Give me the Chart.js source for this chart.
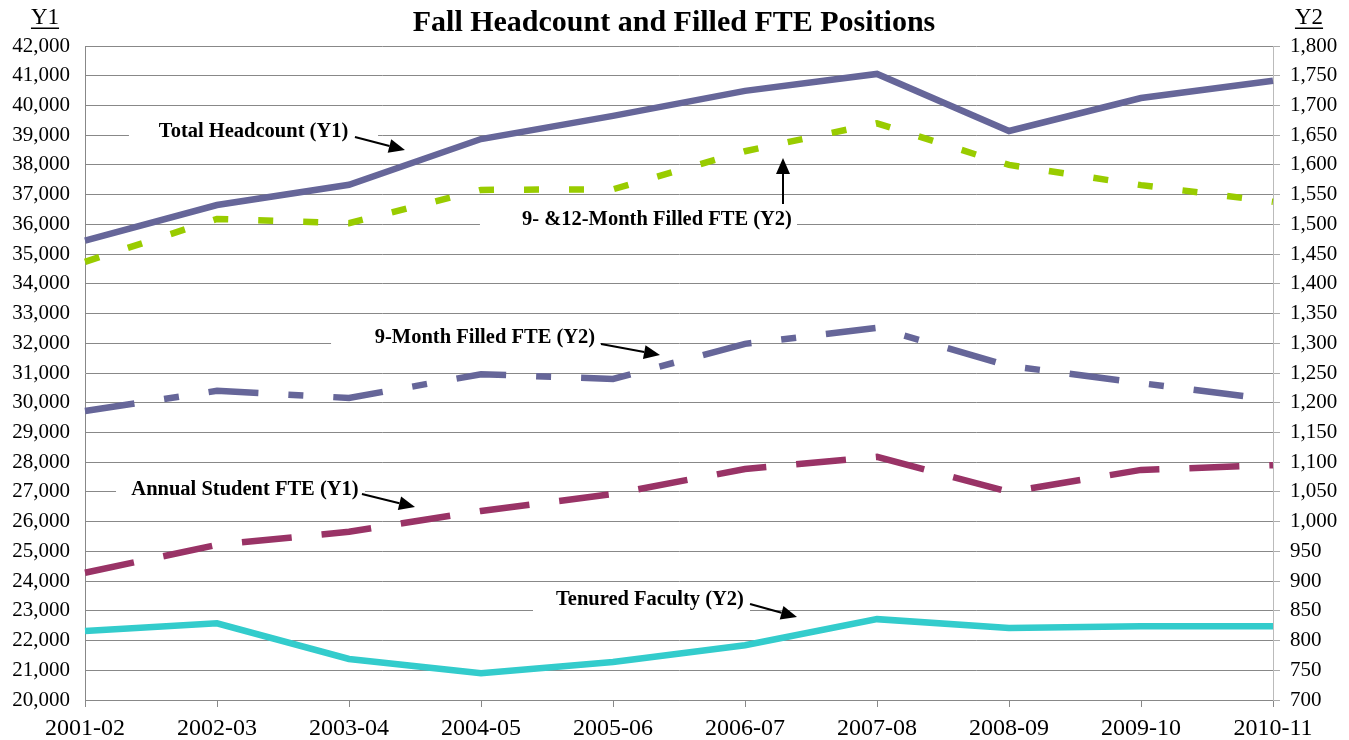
<!DOCTYPE html>
<html>
<head>
<meta charset="utf-8">
<script src="https://cdn.jsdelivr.net/npm/chart.js@4/dist/chart.umd.min.js"></script>
<style>
  html, body { margin: 0; padding: 0; background: #fff; }
  canvas { display: block; }
</style>
</head>
<body>
<canvas id="chart" width="1349" height="740"></canvas>
<script>
// --- data ---
const years = ['2001-02', '2002-03', '2003-04', '2004-05', '2005-06',
               '2006-07', '2007-08', '2008-09', '2009-10', '2010-11'];

// left axis (Y1)
const totalHeadcount   = [35450, 36650, 37330, 38870, 39650, 40490, 41060, 39140, 40250, 40830];
const annualStudentFte = [24280, 25220, 25660, 26360, 26930, 27770, 28180, 27000, 27740, 27900];

// right axis (Y2)
const fte9and12Month = [1437, 1509, 1502, 1558, 1559, 1623, 1670, 1600, 1566, 1538];
const fte9Month      = [1186, 1220, 1208, 1248, 1240, 1299, 1326, 1262, 1233, 1205];
const tenuredFaculty = [816, 829, 769, 745, 764, 792, 836, 821, 824, 824];

const y1Range = [20000, 42000];
const y2Range = [700, 1800];

const FONT = '"Liberation Serif", "DejaVu Serif", serif';

// callouts: position given as (category index, Y1 value)
const callouts = [
  { text: 'Total Headcount (Y1)',        at: [1.277, 39107], box: [0.333, 2.22],  from: [2.045, 38939], to: [2.424, 38502] },
  { text: '9- &12-Month Filled FTE (Y2)', at: [4.333, 36147], box: [2.992, 5.394], from: [5.288, 36685], to: [5.288, 38232] },
  { text: '9-Month Filled FTE (Y2)',     at: [3.03, 32178],  box: [1.864, 3.902], from: [3.909, 31976], to: [4.356, 31606] },
  { text: 'Annual Student FTE (Y1)',     at: [1.212, 27064], box: [0.235, 2.121], from: [2.098, 26930], to: [2.5, 26493] },
  { text: 'Tenured Faculty (Y2)',        at: [4.28, 23364],  box: [3.394, 5.038], from: [5.038, 23229], to: [5.394, 22792] }
];

// maps (index, Y1 value) to canvas pixels
function px(chart, pt) {
  const x = chart.scales.x;
  const y = chart.scales.y1;
  const x0 = x.getPixelForValue(0);
  const step = x.getPixelForValue(1) - x0;
  return [x0 + pt[0] * step, y.getPixelForValue(pt[1])];
}

function drawArrow(ctx, a, b) {
  const ang = Math.atan2(b[1] - a[1], b[0] - a[0]);
  const headLen = 16, headW = 7;
  const bx = b[0] - Math.cos(ang) * headLen;
  const by = b[1] - Math.sin(ang) * headLen;
  ctx.save();
  ctx.strokeStyle = '#000';
  ctx.fillStyle = '#000';
  ctx.lineWidth = 2;
  ctx.beginPath();
  ctx.moveTo(a[0], a[1]);
  ctx.lineTo(bx, by);
  ctx.stroke();
  ctx.beginPath();
  ctx.moveTo(b[0], b[1]);
  ctx.lineTo(bx + Math.sin(ang) * headW, by - Math.cos(ang) * headW);
  ctx.lineTo(bx - Math.sin(ang) * headW, by + Math.cos(ang) * headW);
  ctx.closePath();
  ctx.fill();
  ctx.restore();
}

const decorations = {
  id: 'decorations',
  beforeDatasetsDraw(chart) {
    // white text boxes hide the grid behind the callouts
    const ctx = chart.ctx;
    ctx.save();
    ctx.fillStyle = '#fff';
    callouts.forEach(c => {
      const l = px(chart, [c.box[0], c.at[1]]);
      const r = px(chart, [c.box[1], c.at[1]]);
      ctx.fillRect(l[0], l[1] - 13, r[0] - l[0], 26);
    });
    ctx.restore();
  },
  afterDraw(chart) {
    const ctx = chart.ctx;
    ctx.save();
    ctx.fillStyle = '#000';
    ctx.textAlign = 'center';
    ctx.textBaseline = 'middle';

    // title
    ctx.font = 'bold 30px ' + FONT;
    ctx.fillText('Fall Headcount and Filled FTE Positions', 674, 23);

    // axis names, underlined
    ctx.font = '23px ' + FONT;
    [['Y1', 45], ['Y2', 1309]].forEach(([t, cx]) => {
      ctx.fillText(t, cx, 18);
      const w = ctx.measureText(t).width;
      ctx.fillRect(cx - w / 2, 27.5, w, 1.5);
    });

    // callouts
    ctx.font = 'bold 20.5px ' + FONT;
    callouts.forEach(c => {
      const p = px(chart, c.at);
      ctx.fillText(c.text, p[0], p[1]);
      drawArrow(ctx, px(chart, c.from), px(chart, c.to));
    });
    ctx.restore();
  }
};

const lineDefaults = { pointRadius: 0, tension: 0, borderWidth: 6.5, fill: false, borderCapStyle: 'butt' };

new Chart(document.getElementById('chart'), {
  type: 'line',
  data: {
    labels: years,
    datasets: [
      { ...lineDefaults, label: 'Total Headcount (Y1)', data: totalHeadcount, yAxisID: 'y1',
        borderColor: '#666699' },
      { ...lineDefaults, label: '9- &12-Month Filled FTE (Y2)', data: fte9and12Month, yAxisID: 'y2',
        borderColor: '#99cc00', borderDash: [15, 30] },
      { ...lineDefaults, label: '9-Month Filled FTE (Y2)', data: fte9Month, yAxisID: 'y2',
        borderColor: '#666699', borderDash: [50, 30, 15, 30] },
      { ...lineDefaults, label: 'Annual Student FTE (Y1)', data: annualStudentFte, yAxisID: 'y1',
        borderColor: '#993366', borderDash: [50, 30] },
      { ...lineDefaults, label: 'Tenured Faculty (Y2)', data: tenuredFaculty, yAxisID: 'y2',
        borderColor: '#33cccc' }
    ]
  },
  options: {
    responsive: false,
    animation: false,
    devicePixelRatio: 1,
    layout: { padding: { top: 46, left: 0, right: 0, bottom: 0 } },
    plugins: {
      legend: { display: false },
      title: { display: false },
      tooltip: { enabled: false }
    },
    scales: {
      x: {
        type: 'category',
        offset: false,
        grid: { drawOnChartArea: false, tickLength: 7, color: '#888' },
        border: { color: '#888' },
        ticks: { font: { family: FONT, size: 24 }, color: '#000', padding: 7, maxRotation: 0, autoSkip: false },
        afterFit(s) { s.height = 40; }
      },
      y1: {
        position: 'left',
        min: y1Range[0],
        max: y1Range[1],
        grid: { color: '#888', drawTicks: false },
        border: { color: '#888' },
        ticks: {
          stepSize: 1000,
          padding: 15,
          color: '#000',
          font: { family: FONT, size: 21 },
          callback: v => v.toLocaleString('en-US')
        },
        afterFit(s) { s.width = 85; }
      },
      y2: {
        position: 'right',
        min: y2Range[0],
        max: y2Range[1],
        grid: { drawOnChartArea: false, tickLength: 7, color: '#aaa' },
        border: { color: '#bbb' },
        ticks: {
          stepSize: 50,
          padding: 10,
          color: '#000',
          font: { family: FONT, size: 21 },
          callback: v => v.toLocaleString('en-US')
        },
        afterFit(s) { s.width = 76; }
      }
    }
  },
  plugins: [decorations]
});
</script>
</body>
</html>
